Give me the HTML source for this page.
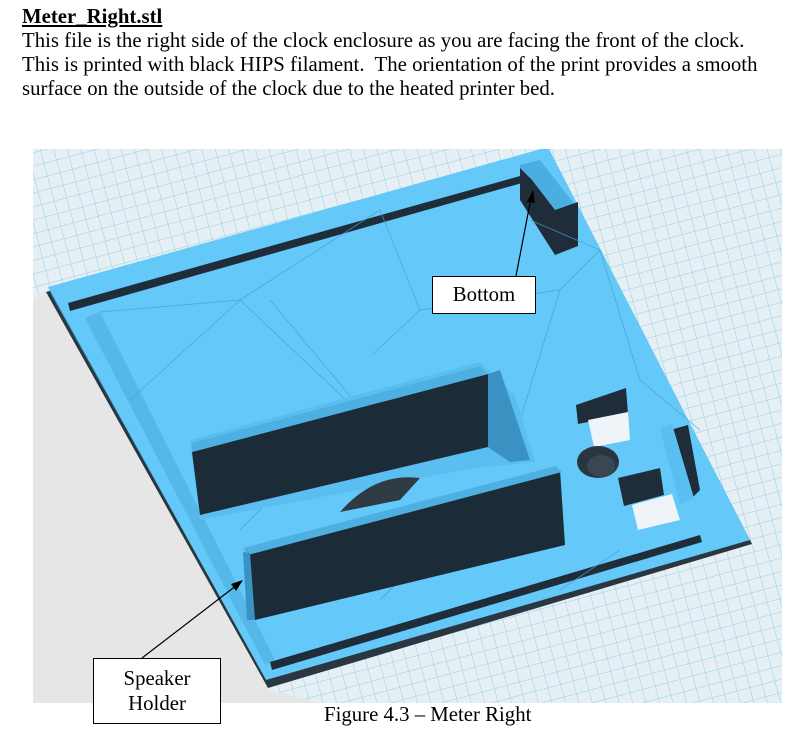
<!DOCTYPE html>
<html><head><meta charset="utf-8"><style>
body{margin:0;width:795px;height:748px;background:#fff;position:relative;overflow:hidden;font-family:"Liberation Serif",serif;color:#000}
.t{position:absolute;left:22px;font-size:20.8px;white-space:nowrap;line-height:24px}
.box{position:absolute;background:#fff;border:1px solid #000;font-size:20.8px;text-align:center;line-height:25px}
</style></head><body>
<div class="t" style="top:5px;font-weight:bold;text-decoration:underline">Meter_Right.stl</div>
<div class="t" style="top:29px">This file is the right side of the clock enclosure as you are facing the front of the clock.</div>
<div class="t" style="top:53px">This is printed with black HIPS filament.&nbsp; The orientation of the print provides a smooth</div>
<div class="t" style="top:77px">surface on the outside of the clock due to the heated printer bed.</div>

<svg style="position:absolute;left:0;top:0" width="795" height="748">
<defs>
<pattern id="g" width="13" height="13" patternUnits="userSpaceOnUse" patternTransform="rotate(-15)">
<rect width="13" height="13" fill="#e6f0f4"/>
<path d="M0 0H13M0 0V13" stroke="#93cfe6" stroke-width="1"/>
</pattern>
<clipPath id="c"><rect x="33" y="149" width="749" height="554"/></clipPath>
</defs>
<g clip-path="url(#c)">
<rect x="33" y="149" width="749" height="554" fill="url(#g)"/>
<polygon points="33,300 48,290 270,690 320,703 33,703" fill="#e6e6e6"/>
<polygon points="46,292 548,150 752,544 268,688" fill="#2a3640"/>
<polygon points="48,287 548,147 750,540 266,680" fill="#64c8f8"/>
<polygon points="48,287 52,296 268,683 266,680" fill="#3f8fbf"/>
<polygon points="68,303 520,176 522,183 70,311" fill="#1f2d3a"/>
<polygon points="85,318 100,312 275,660 265,665" fill="#56b8e8"/>
<polygon points="270,662 700,535 702,542 272,670" fill="#1f2d3a"/>
<polygon points="520,165 540,160 575,205 578,245 555,255 520,195" fill="#4aaee0"/>
<polygon points="520,168 532,180 555,210 555,255 520,200" fill="#1f2d3a"/>
<polygon points="555,210 578,202 578,246 555,255" fill="#1f2d3a"/>
<g stroke="#4a9fcf" stroke-width="0.8" fill="none" opacity="0.8">
<path d="M100,312 L240,300 L380,432 L270,300 M240,300 L380,210 L420,310 L560,290 L600,250 L640,380 M420,310 L372,355 M130,400 L240,300 M560,290 L520,420 M600,250 L530,220 M640,380 L700,430 M240,530 L330,440 M560,590 L620,550 M380,600 L420,560"/>
</g>
<polygon points="190,440 480,362 515,395 535,462 475,468 200,520" fill="#5bbef0"/>
<polygon points="192,452 488,374 488,447 200,515" fill="#1c2b38"/>
<polygon points="488,374 500,370 530,460 510,462 488,447" fill="#3a92c2"/>
<polygon points="192,443 480,366 488,374 192,452" fill="#4eb0e0"/>
<path d="M340,512 Q375,472 420,478 L400,500 Z" fill="#2e3a44"/>
<polygon points="248,550 560,470 565,545 255,620" fill="#1c2b38"/>
<polygon points="243,548 556,466 562,472 248,555" fill="#4eb0e0"/>
<polygon points="243,552 250,553 255,620 247,620" fill="#3a92c2"/>
<polygon points="576,405 626,388 628,414 578,424" fill="#1f2d3a"/>
<polygon points="588,420 628,412 630,440 594,447" fill="#eef4f7"/>
<polygon points="618,478 660,468 664,495 624,506" fill="#1f2d3a"/>
<polygon points="632,505 672,494 680,520 638,530" fill="#eef4f7"/>
<polygon points="670,430 688,425 700,490 690,500" fill="#1f2d3a"/>
<polygon points="660,428 672,424 694,498 680,505" fill="#5bbef0"/>
<ellipse cx="598" cy="462" rx="21" ry="16" fill="#2a3540"/>
<ellipse cx="601" cy="466" rx="14" ry="11" fill="#3a4650"/>
</g>
<line x1="516" y1="276" x2="531" y2="198" stroke="#000" stroke-width="1.2"/>
<polygon points="533,190 527,202 535,203" fill="#000"/>
<line x1="142" y1="658" x2="237" y2="585" stroke="#000" stroke-width="1.2"/>
<polygon points="243,580 231,584 236,591" fill="#000"/>
</svg>
<div class="box" style="left:432px;top:276px;width:102px;height:36px;line-height:36px">Bottom</div>
<div class="box" style="left:93px;top:658px;width:128px;height:66px;padding-top:7px;box-sizing:border-box">Speaker<br>Holder</div>
<div class="t" style="left:324px;top:703px">Figure 4.3 – Meter Right</div>
</body></html>
